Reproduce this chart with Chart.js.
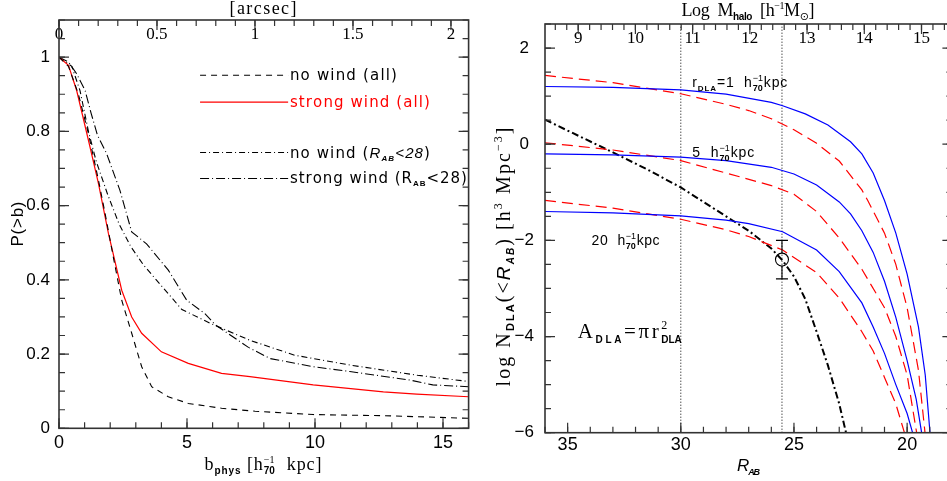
<!DOCTYPE html>
<html><head><meta charset="utf-8">
<script src="https://cdn.jsdelivr.net/npm/chart.js@4"></script>
<style>
html,body{margin:0;padding:0;background:#fff;overflow:hidden;width:947px;height:481px;}
#cl{position:absolute;left:0;top:0;}
#cr{position:absolute;left:480px;top:0;}
</style></head><body>
<canvas id="cl" width="480" height="481"></canvas>
<canvas id="cr" width="480" height="481"></canvas>
<script>
// ===== Left panel data: P(>b) vs b_phys [h70^-1 kpc] =====
const bNoWindAll = [0,0.37,0.75,1.15,1.54,1.8,2.12,2.45,2.84,3.23,3.62,4.27,5.05,6.35,7.66,9.93,12.67,16];
const pNoWindAll = [1.0,0.975,0.902,0.794,0.669,0.579,0.462,0.345,0.256,0.166,0.112,0.085,0.067,0.054,0.046,0.037,0.034,0.027];
const bStrongAll = [0,0.37,0.69,1.15,1.54,1.93,2.45,2.84,3.23,4.0,5.05,6.35,7.46,9.93,12.67,13.97,16];
const pStrongAll = [1.0,0.978,0.91,0.776,0.66,0.525,0.372,0.30,0.256,0.206,0.175,0.148,0.139,0.117,0.098,0.092,0.085];
const bNoWind28 = [0,0.5,0.82,1.15,1.45,1.9,2.35,2.8,3.3,3.8,4.8,6.0,7.5,9.2,11.4,14.0,16];
const pNoWind28 = [1.0,0.975,0.91,0.80,0.72,0.63,0.55,0.49,0.44,0.40,0.32,0.28,0.236,0.197,0.170,0.143,0.126];
const bStrong28 = [0,0.37,0.69,1.02,1.25,1.5,1.86,2.38,2.84,3.42,4.27,4.99,5.7,6.1,7.4,8.24,9.93,11.36,13.7,14.6,16];
const pStrong28 = [1.0,0.987,0.955,0.91,0.85,0.79,0.74,0.641,0.529,0.497,0.426,0.345,0.309,0.279,0.218,0.188,0.166,0.153,0.130,0.117,0.112];

const leftXTicks = [0,5,10,15], leftXLabels = ['0','5','10','15'];
const leftYTicks = [0,0.2,0.4,0.6,0.8,1], leftYLabels = ['0','0.2','0.4','0.6','0.8','1'];
const leftTopTicks = [0,0.5,1,1.5,2], leftTopLabels = ['0','0.5','1','1.5','2'];
const arcsecMax = 2.09; // top axis range matching b = 0..16 kpc

// ===== Right panel data: log N_DLA(<R_AB) vs R_AB =====
const rBlack = [36,34.5,33,31.5,30,29,28,27,26,25.5,25,24.5,24,23.5,23,22.7];
const nBlack = [0.51,0.17,-0.17,-0.52,-0.90,-1.20,-1.50,-1.80,-2.17,-2.42,-2.75,-3.22,-3.90,-4.60,-5.40,-6.0];
const rB1 = [36,33,30,28,26,25.5,24.5,23.5,22.5,22,21.5,21,20.5,20,19.5,19.2,18.99];
const nB1 = [1.20,1.18,1.13,1.04,0.87,0.80,0.63,0.40,0.05,-0.2,-0.6,-1.17,-1.85,-2.7,-3.8,-4.8,-6.0];
const rR1 = [36,33,30,28,27,26,25,24,23,22,21.74,21,20.5,20,19.5,19.21];
const nR1 = [1.43,1.28,1.05,0.83,0.70,0.53,0.30,0.02,-0.35,-0.95,-1.17,-1.85,-2.5,-3.4,-4.7,-6.0];
const rB5 = [36,33,30,28,26,25,24,23,22.5,22,21.5,21,20.5,20,19.6,19.36];
const nB5 = [-0.20,-0.22,-0.27,-0.34,-0.48,-0.62,-0.85,-1.2,-1.45,-1.8,-2.25,-2.85,-3.6,-4.5,-5.3,-6.0];
const rR5 = [36,33,30,28,26,25,24,23,22,21,20.5,20,19.58];
const nR5 = [0.03,-0.12,-0.34,-0.60,-0.86,-1.04,-1.40,-1.95,-2.6,-3.4,-4.0,-4.8,-6.0];
const rB20 = [36,33,30,28,27,25.5,24,23,22,21.5,21,20.5,20,19.76];
const nB20 = [-1.40,-1.43,-1.49,-1.58,-1.65,-1.82,-2.2,-2.65,-3.3,-3.8,-4.35,-5.0,-5.6,-6.0];
const rR20 = [36,33,30,28,27,25.5,24,23,22,21.5,21,20.5,20.12];
const nR20 = [-1.17,-1.33,-1.56,-1.78,-1.92,-2.2,-2.67,-3.2,-3.9,-4.3,-4.85,-5.4,-6.0];
const dottedR = [30, 25.53];
const obsR = [25.53], obsN = [-2.4], obsErr = [0.4];

const rightXTicks = [35,30,25,20], rightXLabels = ['35','30','25','20'];
const rightYTicks = [-6,-4,-2,0,2], rightYLabels = ['\u22126','\u22124','\u22122','0','2'];
const rightTopTicks = [9,10,11,12,13,14,15], rightTopLabels = ['9','10','11','12','13','14','15'];
const rMin = 18, rMax = 36, nMin = -6, nMax = 2.5, mMin = 8.42, mMax = 15.54;

// ===== helpers =====
const SERIF = '"Liberation Serif","DejaVu Serif",serif';
const SANS = '"Liberation Sans","DejaVu Sans",sans-serif';
const DSANS = '"DejaVu Sans",sans-serif';
const AXC = '#333';
function seq(a,b,st){const r=[];for(let v=a;v<=b+1e-9;v+=st)r.push(+v.toFixed(4));return r;}
function pts(xs,ys){return xs.map((x,i)=>({x:x,y:ys[i]}));}
function line(xs,ys,color,dash,w){return {type:'scatter',showLine:true,data:pts(xs,ys),borderColor:color,backgroundColor:color,borderDash:dash,borderWidth:w,pointRadius:0,tension:0,fill:false};}

function measureParts(ctx,parts){let w=0,n=0;for(const p of parts){if(p.stack){let m=0;for(const s of p.stack){ctx.font=s.f;m=Math.max(m,ctx.measureText(s.t).width);}w+=m;n++;}else{ctx.font=p.f;for(const ch of p.t){w+=ctx.measureText(ch).width;n++;}}}return {w,n};}
function drawParts(ctx,parts,x,y,opt){
  ctx.save();
  const m=measureParts(ctx,parts);
  const ls=opt.width?(opt.width-m.w)/Math.max(1,m.n-1):0;
  const total=m.w+ls*(m.n-1);
  ctx.translate(x,y); if(opt.rot)ctx.rotate(opt.rot);
  let cx=opt.align==='center'?-total/2:0;
  ctx.textBaseline='alphabetic';ctx.textAlign='left';
  for(const p of parts){
    if(p.stack){let mw=0;for(const s of p.stack){ctx.font=s.f;ctx.fillStyle=s.c||opt.color||'#000';ctx.fillText(s.t,cx,s.dy||0);mw=Math.max(mw,ctx.measureText(s.t).width);}cx+=mw+ls;}
    else{ctx.font=p.f;ctx.fillStyle=p.c||opt.color||'#000';for(const ch of p.t){ctx.fillText(ch,cx,p.dy||0);cx+=ctx.measureText(ch).width+ls;}}
  }
  ctx.restore();
}
function inTicks(ctx,chart,id,side,vals,len){
  const s=chart.scales[id],a=chart.chartArea;
  ctx.beginPath();
  for(const v of vals){
    const p=s.getPixelForValue(v);
    if(side==='bottom'||side==='top'){
      if(p<a.left-0.5||p>a.right+0.5)continue;
      if(side==='bottom'){ctx.moveTo(p,a.bottom);ctx.lineTo(p,a.bottom-len);}else{ctx.moveTo(p,a.top);ctx.lineTo(p,a.top+len);}
    }else{
      if(p<a.top-0.5||p>a.bottom+0.5)continue;
      if(side==='left'){ctx.moveTo(a.left,p);ctx.lineTo(a.left+len,p);}else{ctx.moveTo(a.right,p);ctx.lineTo(a.right-len,p);}
    }
  }
  ctx.stroke();
}
function axis(o){
  const base={type:'linear',grid:{display:false,drawTicks:false},border:{display:false}};
  return Object.assign(base,o);
}
function tickOpts(labels,family,size,padding,extra){
  return Object.assign({autoSkip:false,maxRotation:0,minRotation:0,color:'#000',font:{family:family,size:size},padding:padding,callback:(v,i)=>labels[i]},extra||{});
}
const setTicks=arr=>(s=>{s.ticks=arr.map(v=>({value:v}));});

// ===== LEFT CHART =====
const S18=`18px ${SERIF}`;
const leftDS=[
  line(bNoWindAll,pNoWindAll,'#000',[6,5],1.1),
  line(bStrongAll,pStrongAll,'#ff0000',[],1.2),
  line(bNoWind28,pNoWind28,'#000',[6,3,1,3],1.1),
  line(bStrong28,pStrong28,'#000',[9,3,1,3],1.1)
];
const leftDeco={id:'leftDeco',afterDraw(chart){
  const ctx=chart.ctx,a=chart.chartArea;
  ctx.save();
  ctx.strokeStyle=AXC;ctx.lineWidth=1.2;ctx.setLineDash([]);
  inTicks(ctx,chart,'x','bottom',seq(0,16,1),6);
  inTicks(ctx,chart,'x','bottom',leftXTicks,10);
  inTicks(ctx,chart,'x2','top',seq(0,2.1,0.1),6);
  inTicks(ctx,chart,'x2','top',leftTopTicks,10);
  inTicks(ctx,chart,'y','left',seq(0,1.1,0.05),6);
  inTicks(ctx,chart,'y','left',leftYTicks,10);
  inTicks(ctx,chart,'y','right',seq(0,1.1,0.05),6);
  inTicks(ctx,chart,'y','right',leftYTicks,10);
  ctx.lineWidth=1.6;ctx.strokeRect(a.left,a.top,a.right-a.left,a.bottom-a.top);
  // legend
  const xs=chart.scales.x, ys=chart.scales.y;
  const lx0=xs.getPixelForValue(5.51), lx1=xs.getPixelForValue(8.95), tx=xs.getPixelForValue(9.02);
  const rows=[0.951,0.879,0.743,0.673];
  const F15=`15px ${DSANS}`;
  const legParts=[
    [{t:'no wind (all)',f:F15}],
    [{t:'strong wind (all)',f:F15}],
    [{t:'no wind (',f:F15},{t:'R',f:`italic 15px ${SANS}`},{t:'AB',f:`bold italic 8px ${SANS}`,dy:3},{t:'<28',f:`italic 15px ${SANS}`},{t:')',f:F15}],
    [{t:'strong wind (R',f:F15},{t:'AB',f:`bold 8px ${SANS}`,dy:3},{t:'<28)',f:F15}]
  ];
  const legW=[107,140,140,177];
  rows.forEach((r,i)=>{
    const py=ys.getPixelForValue(r);
    const ds=chart.data.datasets[i];
    ctx.strokeStyle=ds.borderColor;ctx.lineWidth=ds.borderWidth;ctx.setLineDash(ds.borderDash);
    ctx.beginPath();ctx.moveTo(lx0,py);ctx.lineTo(lx1,py);ctx.stroke();
    ctx.setLineDash([]);
    drawParts(ctx,legParts[i],tx,py+5,{width:legW[i],color:ds.borderColor});
  });
  // titles
  drawParts(ctx,[{t:'[arcsec]',f:S18}],263,14,{align:'center',width:67});
  drawParts(ctx,[{t:'b',f:S18},{t:'phys',f:`bold 10px ${SANS}`,dy:4},{t:' [h',f:S18},{stack:[{t:'\u22121',f:`10px ${SERIF}`,dy:-7},{t:'70',f:`bold 10px ${SANS}`,dy:4}]},{t:'  kpc]',f:S18}],263,470,{align:'center',width:117});
  drawParts(ctx,[{t:'P(>b)',f:`17px ${SANS}`}],23,224,{align:'center',rot:-Math.PI/2,width:45});
  ctx.restore();
}};
new Chart(document.getElementById('cl'),{
  type:'scatter',
  data:{datasets:leftDS},
  options:{
    responsive:false,animation:false,events:[],
    layout:{padding:{left:0,right:11.4,top:0,bottom:0}},
    plugins:{legend:{display:false},tooltip:{enabled:false}},
    scales:{
      x:axis({position:'bottom',min:0,max:16,afterBuildTicks:setTicks(leftXTicks),afterFit:s=>{s.height=52.7;},ticks:tickOpts(leftXLabels,'Liberation Sans',18,4)}),
      x2:axis({position:'top',min:0,max:arcsecMax,afterBuildTicks:setTicks(leftTopTicks),afterFit:s=>{s.height=20;},ticks:tickOpts(leftTopLabels,'Liberation Serif',17,4,{mirror:true})}),
      y:axis({position:'left',min:0,max:1.1,afterBuildTicks:setTicks(leftYTicks),afterFit:s=>{s.width=59;},ticks:tickOpts(leftYLabels,'Liberation Sans',17,9)})
    }
  },
  plugins:[leftDeco]
});

// ===== RIGHT CHART =====
const rightDS=[
  line(rB1,nB1,'#0000ff',[],1.2),
  line(rR1,nR1,'#ff0000',[11,6],1.2),
  line(rB5,nB5,'#0000ff',[],1.2),
  line(rR5,nR5,'#ff0000',[11,6],1.2),
  line(rB20,nB20,'#0000ff',[],1.2),
  line(rR20,nR20,'#ff0000',[11,6],1.2),
  line(rBlack,nBlack,'#000',[7,3,2,3],2),
  line([dottedR[0],dottedR[0]],[nMin,nMax],'#000',[1,2],1),
  line([dottedR[1],dottedR[1]],[nMin,nMax],'#000',[1,2],1),
  {type:'scatter',data:pts(obsR,obsN),pointRadius:6.5,pointStyle:'circle',borderColor:'#000',backgroundColor:'rgba(0,0,0,0)',borderWidth:1.1,showLine:false}
];
const rightDeco={id:'rightDeco',afterDraw(chart){
  const ctx=chart.ctx,a=chart.chartArea;
  const xs=chart.scales.x, ys=chart.scales.y;
  ctx.save();
  // error bars
  ctx.strokeStyle='#000';ctx.lineWidth=1.1;ctx.setLineDash([]);
  obsR.forEach((r,i)=>{
    const px=xs.getPixelForValue(r), p1=ys.getPixelForValue(obsN[i]+obsErr[i]), p2=ys.getPixelForValue(obsN[i]-obsErr[i]);
    const pc=ys.getPixelForValue(obsN[i]);
    ctx.beginPath();ctx.moveTo(px,p1);ctx.lineTo(px,pc-6.5);ctx.moveTo(px,pc+6.5);ctx.lineTo(px,p2);
    ctx.moveTo(px-6,p1);ctx.lineTo(px+6,p1);ctx.moveTo(px-6,p2);ctx.lineTo(px+6,p2);ctx.stroke();
  });
  ctx.strokeStyle=AXC;ctx.lineWidth=1.2;
  inTicks(ctx,chart,'x','bottom',seq(18,36,1),6);
  inTicks(ctx,chart,'x','bottom',rightXTicks,10);
  inTicks(ctx,chart,'x2','top',seq(8.6,15.4,0.2),6);
  inTicks(ctx,chart,'x2','top',rightTopTicks,10);
  inTicks(ctx,chart,'y','left',seq(-6,2.5,0.5),6);
  inTicks(ctx,chart,'y','left',rightYTicks,10);
  inTicks(ctx,chart,'y','right',seq(-6,2.5,0.5),6);
  inTicks(ctx,chart,'y','right',rightYTicks,10);
  ctx.lineWidth=1.6;ctx.strokeRect(a.left,a.top,a.right-a.left,a.bottom-a.top);
  // annotations
  const A14=`14px ${SANS}`;
  const hStack={stack:[{t:'\u22121',f:`9px ${SANS}`,dy:-6},{t:'70',f:`bold 9px ${SANS}`,dy:4}]};
  drawParts(ctx,[{t:'r',f:A14},{t:'DLA',f:`bold 8px ${SANS}`,dy:4},{t:'=1  h',f:A14},hStack,{t:'kpc',f:A14}],xs.getPixelForValue(29.49),ys.getPixelForValue(1.20),{width:95});
  drawParts(ctx,[{t:'5  h',f:A14},hStack,{t:'kpc',f:A14}],xs.getPixelForValue(29.49),ys.getPixelForValue(-0.268),{width:62});
  drawParts(ctx,[{t:'20  h',f:A14},hStack,{t:'kpc',f:A14}],xs.getPixelForValue(33.94),ys.getPixelForValue(-2.094),{width:68});
  const S20=`21px ${SERIF}`;
  drawParts(ctx,[{t:'A',f:S20},{t:'DLA',f:`bold 10px ${SANS}`,dy:5},{t:'=',f:S20},{t:'\u03c0',f:S20},{t:'r',f:S20},{stack:[{t:'2',f:`12px ${SERIF}`,dy:-9},{t:'DLA',f:`bold 10px ${SANS}`,dy:5}]}],xs.getPixelForValue(34.55),ys.getPixelForValue(-4.03),{width:104});
  // titles
  drawParts(ctx,[{t:'Log  M',f:S18},{t:'halo',f:`bold 10px ${SANS}`,dy:4},{t:'  [h',f:S18},{t:'\u22121',f:`10px ${SERIF}`,dy:-7},{t:'M',f:S18},{t:'\u2299',f:`11px ${DSANS}`,dy:4},{t:']',f:S18}],268,16,{align:'center',width:133});
  const S20b=`20px ${SERIF}`;
  drawParts(ctx,[{t:'log N',f:S20b},{t:'DLA',f:`bold 11px ${SANS}`,dy:4},{t:'(<',f:S20b},{t:'R',f:`italic 19px ${SANS}`},{t:'AB',f:`bold italic 10px ${SANS}`,dy:4},{t:')',f:S20b},{t:' [h',f:S20b},{t:'3',f:`12px ${SERIF}`,dy:-8},{t:' Mpc',f:S20b},{t:'\u22123',f:`12px ${SERIF}`,dy:-8},{t:']',f:S20b}],30,257,{align:'center',rot:-Math.PI/2,width:259});
  drawParts(ctx,[{t:'R',f:`italic 17px ${SANS}`},{t:'AB',f:`bold italic 9px ${SANS}`,dy:4}],257,471,{width:23});
  ctx.restore();
}};
new Chart(document.getElementById('cr'),{
  type:'scatter',
  data:{datasets:rightDS},
  options:{
    responsive:false,animation:false,events:[],
    layout:{padding:{left:0,right:5.5,top:0,bottom:0}},
    plugins:{legend:{display:false},tooltip:{enabled:false}},
    scales:{
      x:axis({position:'bottom',min:rMin,max:rMax,reverse:true,afterBuildTicks:setTicks(rightXTicks),afterFit:s=>{s.height=48.3;},ticks:tickOpts(rightXLabels,'Liberation Sans',18,2)}),
      x2:axis({position:'top',min:mMin,max:mMax,afterBuildTicks:setTicks(rightTopTicks),afterFit:s=>{s.height=24;},ticks:tickOpts(rightTopLabels,'Liberation Serif',17,4,{mirror:true})}),
      y:axis({position:'left',min:nMin,max:nMax,afterBuildTicks:setTicks(rightYTicks),afterFit:s=>{s.width=65;},ticks:tickOpts(rightYLabels,'Liberation Sans',17,11,{crossAlign:'center'})})
    }
  },
  plugins:[rightDeco]
});
</script></body></html>
